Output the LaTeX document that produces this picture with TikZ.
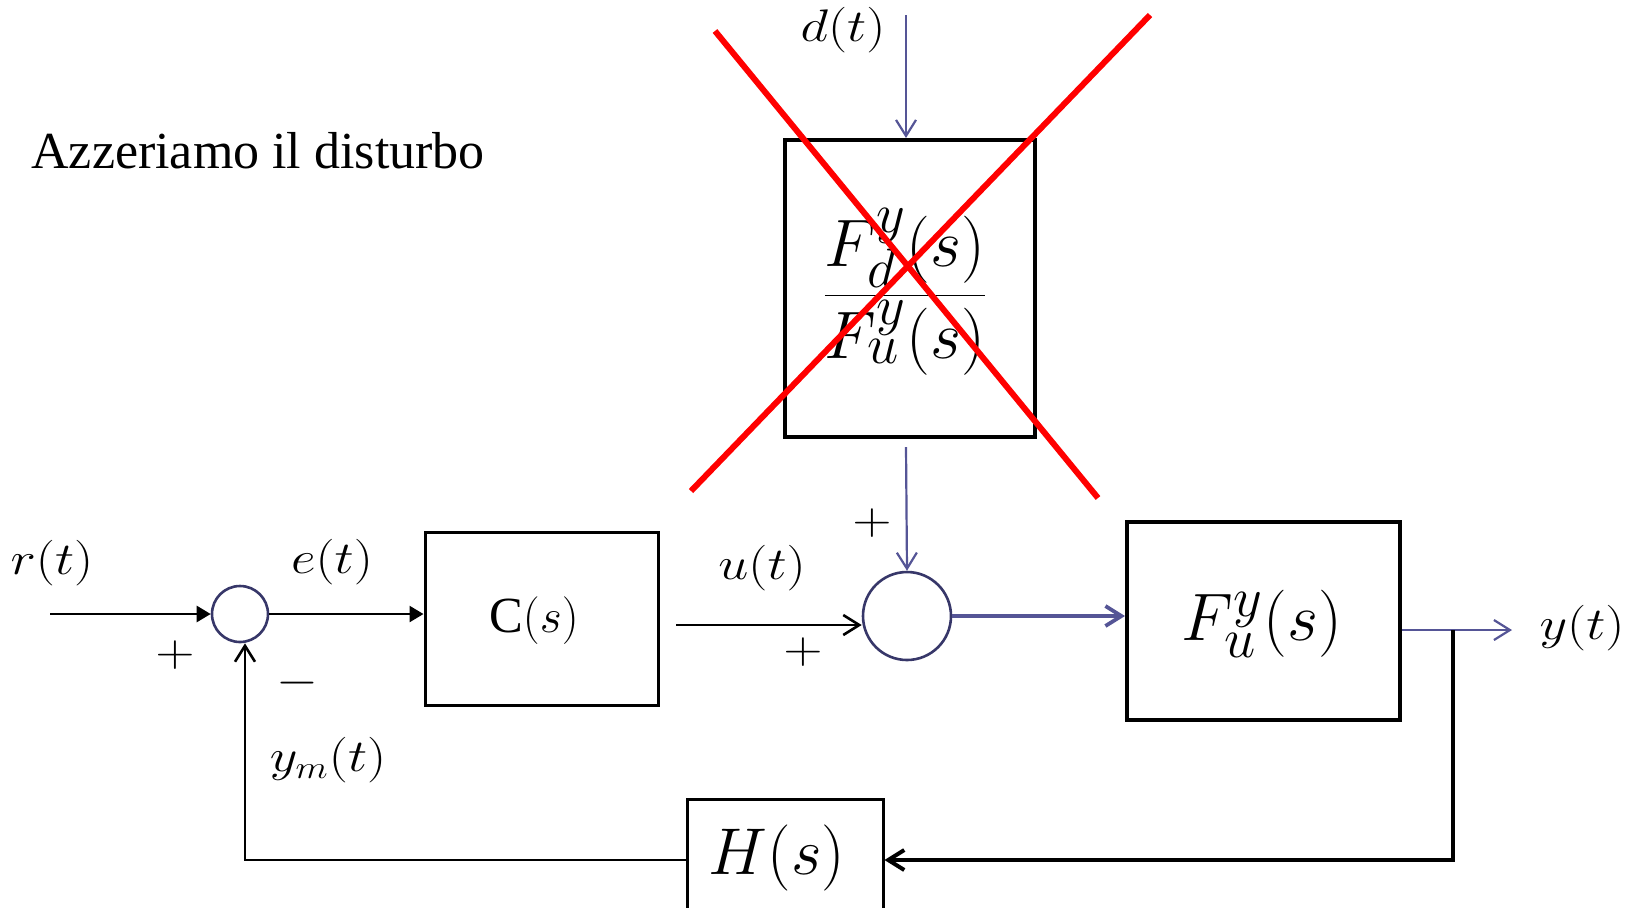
\documentclass[tikz,border=0pt]{standalone}
\usepackage{fontspec}
\setmainfont{Liberation Serif}
\usetikzlibrary{arrows.meta}
\definecolor{navy}{RGB}{55,55,105}
\definecolor{blu}{RGB}{85,85,150}
\definecolor{xred}{RGB}{255,0,0}
\newcommand\slbl[1]{\scalebox{1.3}[1.1]{$#1$}}
\newcommand\sbig[1]{\scalebox{1.35}{$#1$}}
\tikzset{
  thickbox/.style={draw, line width=2pt, inner sep=0pt},
  thinbox/.style={draw, line width=1.5pt, inner sep=0pt},
  sumnode/.style={draw=navy, circle, line width=1.3pt, inner sep=0pt},
  sig/.style={line width=1.3pt},
  bsig/.style={draw=blu, line width=1.1pt},
  openarr/.style={-{Straight Barb[length=8pt,width=10pt]}},
  fillarr/.style={-{Triangle[length=7pt,width=8pt]}},
  lbl/.style={inner sep=0pt, font=\fontsize{22}{26}\selectfont},
  big/.style={inner sep=0pt, font=\fontsize{30}{34}\selectfont},
  cross/.style={draw=xred, line width=3pt},
}
\begin{document}
\begin{tikzpicture}[x=0.5pt,y=-0.5pt]
\useasboundingbox (0,0) rectangle (1637,907);

% title
\node[anchor=west, inner sep=0pt, font=\fontsize{26}{30}\selectfont] (title) at (31,151) {Azzeriamo il disturbo};

% blocks
\node[sumnode, minimum size=28pt] (sum1) at (240,614) {};
\node[thinbox, minimum width=116.5pt, minimum height=86.5pt] (C) at (541.5,618.5) {};
\node[lbl] (Ct) at (534,621) {\scalebox{1.15}{$\mathrm{C}(s)$}};
\node[sumnode, minimum size=44pt] (sum2) at (907,616) {};
\node[thickbox, minimum width=136.5pt, minimum height=99pt] (Fu) at (1263.5,621) {};
\node[big] (Fut) at (1262,624) {\sbig{F_u^y(s)}};
\node[thickbox, minimum width=125pt, minimum height=148.5pt] (Fd) at (910,288.5) {};
\node[big] (Fdt) at (905,292) {\sbig{\displaystyle\frac{F_d^y(s)}{F_u^y(s)}}};
\node[thinbox, minimum width=98pt, minimum height=61pt] (H) at (785,860) {};
\node[big] (Ht) at (777,858) {\scalebox{1.33}{$H(s)$}};

% coordinates
\coordinate (rS) at (50,614);
\coordinate (uS) at (676,625);
\coordinate (dS) at (906,15);
\coordinate (fdS) at (906,447);
\coordinate (yE) at (1512,630);
\coordinate (br) at (1453,630);

% connectors
\draw[sig, fillarr] (rS) -- (sum1.west);
\draw[sig, fillarr] (sum1.east) -- (sum1.east -| C.west);
\draw[sig, openarr] (uS) -- (uS -| sum2.west);
\draw[bsig, openarr] (dS) -- (dS |- Fd.north);
\draw[bsig, openarr] (fdS) -- (sum2.north);
\draw[draw=blu, line width=1.9pt, openarr] (sum2.east) -- (sum2.east -| Fu.west);
\draw[bsig, openarr] (Fu.east |- yE) -- (yE);
\draw[line width=2pt, openarr] (br) |- (H.east);
\draw[sig, openarr] (H.west) -| ([xshift=2.5pt]sum1.south);

% labels
\node[lbl] (rl) at (52,563) {\slbl{r(t)}};
\node[lbl] (el) at (332,562) {\slbl{e(t)}};
\node[lbl] (p1) at (175,655) {\slbl{+}};
\node[lbl] (m1) at (297,683) {\slbl{-}};
\node[lbl] (yml) at (328,760) {\slbl{y_m(t)}};
\node[lbl] (ul) at (762,568) {\slbl{u(t)}};
\node[lbl] (p2) at (872,523) {\slbl{+}};
\node[lbl] (p3) at (803,652) {\slbl{+}};
\node[lbl] (yl) at (1582,628) {\slbl{y(t)}};
\node[lbl] (dl) at (843,30) {\slbl{d(t)}};

% red cross
\draw[cross] (715,31) -- (1098,498);
\draw[cross] (1150,15) -- (691,491);
\end{tikzpicture}
\end{document}
